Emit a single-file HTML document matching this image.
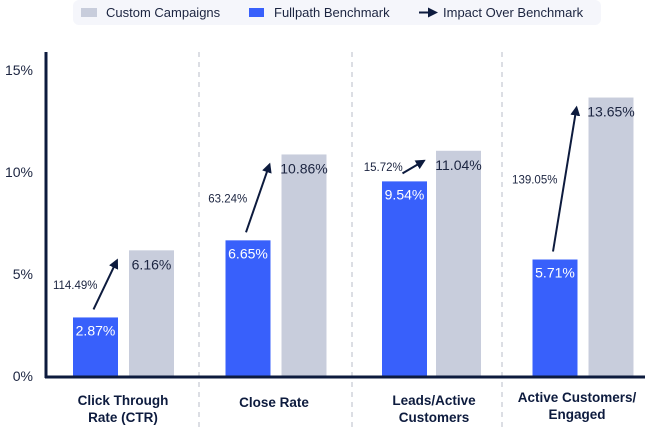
<!DOCTYPE html>
<html><head><meta charset="utf-8"><style>
html,body{margin:0;padding:0;background:#fff;}
svg{display:block;font-family:"Liberation Sans",sans-serif;}
</style></head><body>
<svg id="chart" width="645" height="430" viewBox="0 0 645 430">
<defs><marker id="ah" viewBox="0 0 10 10" refX="8" refY="5" markerWidth="5" markerHeight="5" orient="auto"><path d="M0,0 L10,5 L0,10 z" fill="#0d1b3e"/></marker></defs>
<g>
<rect x="73" y="0" width="528" height="25" rx="6" fill="#f5f6fb"/>
<g><rect x="81" y="8" width="16" height="9" fill="#c8cddc"/><text x="106" y="17" font-size="13" fill="#1b2440">Custom Campaigns</text></g>
<g><rect x="249" y="8" width="15" height="9" fill="#3860fb"/><text x="274" y="17" font-size="13" fill="#1b2440">Fullpath Benchmark</text></g>
<g><line x1="419" y1="12.5" x2="436" y2="12.5" stroke="#0d1b3e" stroke-width="2" marker-end="url(#ah)"/><text x="443" y="17" font-size="13" fill="#1b2440">Impact Over Benchmark</text></g>
</g>
<g id="grid"></g><g id="bars"></g><g id="axes"></g>
</svg>
<script>
const categories = [["Click Through","Rate (CTR)"],["Close Rate"],["Leads/Active","Customers"],["Active Customers/","Engaged"]];
const benchmark = [2.87, 6.65, 9.54, 5.71];
const custom = [6.16, 10.86, 11.04, 13.65];
const impact = ["114.49%","63.24%","15.72%","139.05%"];
const ticks = [0,5,10,15];
const tickLabels = ["0%","5%","10%","15%"];
const NS="http://www.w3.org/2000/svg";
function mk(t,a,p){const e=document.createElementNS(NS,t);for(const k in a)e.setAttribute(k,a[k]);p.appendChild(e);return e;}
const y0=376, pxPer=(376-70)/15;
function y(v){return y0-v*pxPer;}
const bandL=47, bandW=152.5, barW=45;
function blueX(i){return bandL+bandW*i+26+(i>1?4:0)-(i===3?2:0);}
const grid=document.getElementById('grid'), bars=document.getElementById('bars'), axes=document.getElementById('axes');
[199,352,502].forEach(function(x){
 const l=mk('line',{x1:x,y1:52,x2:x,y2:430,stroke:'#b9bdc9','stroke-width':1,'stroke-dasharray':'5,5'},grid);
 
 
});
ticks.forEach(function(t,i){
 const tx=mk('text',{x:33,y:y(t)+5,'text-anchor':'end','font-size':14,fill:'#1b2440'},axes);
 tx.textContent=tickLabels[i];
 
 
});
categories.forEach(function(c,i){
 const bx=blueX(i), gx=bx+barW+(i===2?9:11);
 const b=mk('rect',{x:bx,y:y(benchmark[i]),width:barW,height:y0-y(benchmark[i]),fill:'#3860fb'},bars);
 
 
 const g=mk('rect',{x:gx,y:y(custom[i]),width:barW,height:y0-y(custom[i]),fill:'#c8cddc'},bars);
 
 
 const bt=mk('text',{x:bx+barW/2,y:y(benchmark[i])+18,'text-anchor':'middle','font-size':14,fill:'#fff'},bars);
 bt.textContent=benchmark[i].toFixed(2)+'%';
 
 
 const gt=mk('text',{x:gx+barW/2,y:y(custom[i])+19,'text-anchor':'middle','font-size':14,fill:'#1b2440'},bars);
 gt.textContent=custom[i].toFixed(2)+'%';
 
 
 const x1=bx+barW/2-2, y1=y(benchmark[i])-8, x2=gx-12, y2=y(custom[i])+10;
 const a=mk('line',{x1:x1,y1:y1,x2:x2,y2:y2,stroke:'#0d1b3e','stroke-width':2,'marker-end':'url(#ah)'},bars);
 
 
 const it=mk('text',{x:(x1+x2)/2-30,y:(y1+y2)/2+4,'text-anchor':'middle','font-size':11.5,fill:'#1b2440'},bars);
 it.textContent=impact[i];
 
 
 const cx=[123,274,434,577][i];
 const top=c.length===1?407:(i===3?402:405);
 c.forEach(function(line,j){
  const ct=mk('text',{x:cx,y:top+j*17,'text-anchor':'middle','font-size':13.5,'font-weight':'bold',fill:'#0d1b3e'},axes);
  ct.textContent=line;
  
  
 });
});
const ya=mk('line',{x1:46,y1:52,x2:46,y2:378,stroke:'#0d1b3e','stroke-width':3},axes);


const xa=mk('line',{x1:45,y1:377,x2:645,y2:377,stroke:'#0d1b3e','stroke-width':3},axes);


</script>
</body></html>
